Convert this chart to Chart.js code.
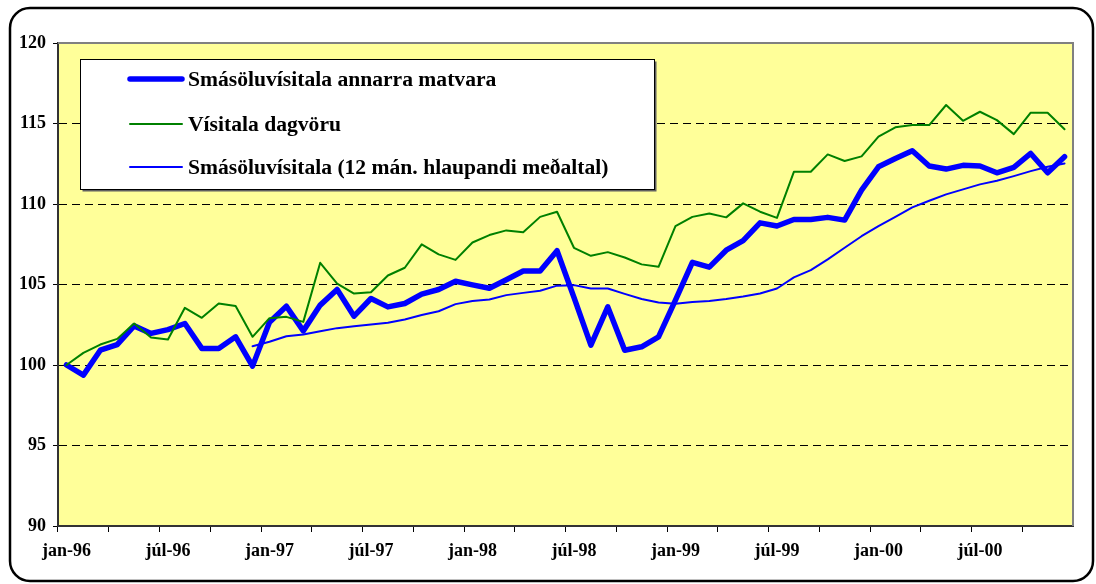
<!DOCTYPE html>
<html><head><meta charset="utf-8">
<script src="https://cdn.jsdelivr.net/npm/chart.js@4/dist/chart.umd.min.js"></script>
<style>html,body{margin:0;padding:0;background:#fff;}canvas{display:block;}</style>
</head><body>
<canvas id="c" width="1096" height="584"></canvas>
<script>
const categories = [
 'jan-96','feb-96','mar-96','apr-96','maí-96','jún-96','júl-96','ágú-96','sep-96','okt-96','nóv-96','des-96',
 'jan-97','feb-97','mar-97','apr-97','maí-97','jún-97','júl-97','ágú-97','sep-97','okt-97','nóv-97','des-97',
 'jan-98','feb-98','mar-98','apr-98','maí-98','jún-98','júl-98','ágú-98','sep-98','okt-98','nóv-98','des-98',
 'jan-99','feb-99','mar-99','apr-99','maí-99','jún-99','júl-99','ágú-99','sep-99','okt-99','nóv-99','des-99',
 'jan-00','feb-00','mar-00','apr-00','maí-00','jún-00','júl-00','ágú-00','sep-00','okt-00','nóv-00','des-00'
];
const seriesAnnarraMatvara = [
 100.0, 99.37, 100.92, 101.27, 102.43, 101.96, 102.2, 102.58, 101.03, 101.03, 101.75, 99.93,
 102.65, 103.65, 102.12, 103.72, 104.69, 103.03, 104.13, 103.61, 103.82, 104.4, 104.69, 105.2,
 104.98, 104.77, 105.3, 105.84, 105.84, 107.1, 104.2, 101.23, 103.61, 100.92, 101.13, 101.75,
 104.03, 106.38, 106.08, 107.13, 107.73, 108.83, 108.63, 109.04, 109.04, 109.17, 109.0, 110.86,
 112.31, 112.83, 113.31, 112.36, 112.17, 112.4, 112.36, 111.94, 112.27, 113.14, 111.94, 112.94
];
const seriesDagvoru = [
 100.0, 100.75, 101.27, 101.62, 102.58, 101.71, 101.58, 103.55, 102.93, 103.82, 103.67, 101.75,
 102.91, 102.99, 102.68, 106.35, 105.06, 104.44, 104.52, 105.56, 106.04, 107.49, 106.87, 106.53,
 107.61, 108.07, 108.36, 108.25, 109.2, 109.52, 107.28, 106.78, 107.01, 106.68, 106.25, 106.1,
 108.63, 109.2, 109.41, 109.17, 110.04, 109.52, 109.14, 112.0, 112.0, 113.08, 112.67, 112.96,
 114.18, 114.76, 114.9, 114.9, 116.15, 115.17, 115.73, 115.21, 114.34, 115.67, 115.67, 114.64
];
const seriesMedaltal = [
 null, null, null, null, null, null, null, null, null, null, null, 101.17,
 101.44, 101.79, 101.9, 102.1, 102.29, 102.4, 102.52, 102.62, 102.83, 103.1, 103.34, 103.78,
 103.98, 104.07, 104.34, 104.48, 104.61, 104.93, 104.96, 104.75, 104.75, 104.42, 104.1, 103.88,
 103.8, 103.92, 103.98, 104.1, 104.25, 104.44, 104.75, 105.44, 105.89, 106.56, 107.28, 108.0,
 108.63, 109.2, 109.79, 110.2, 110.6, 110.91, 111.22, 111.44, 111.73, 112.04, 112.31, 112.52
];
const seriesNames = [
 'Smásöluvísitala annarra matvara',
 'Vísitala dagvöru',
 'Smásöluvísitala (12 mán. hlaupandi meðaltal)'
];
const yTickValues = [90, 95, 100, 105, 110, 115, 120];

const FONT = "'Liberation Serif', 'Times New Roman', serif";

const decor = {
  id: 'decor',
  beforeDraw(chart) {
    const {ctx, chartArea: a} = chart;
    ctx.save();
    ctx.fillStyle = '#ffffff';
    ctx.fillRect(0, 0, chart.width, chart.height);
    ctx.fillStyle = '#FFFF99';
    ctx.fillRect(a.left, a.top, a.right - a.left, a.bottom - a.top);
    ctx.restore();
  },
  afterDatasetsDraw(chart) {
    const {ctx, chartArea: a} = chart;
    ctx.save();
    ctx.strokeStyle = '#808080';
    ctx.lineWidth = 2;
    ctx.beginPath();
    ctx.moveTo(a.left, a.top);
    ctx.lineTo(a.right, a.top);
    ctx.lineTo(a.right, a.bottom);
    ctx.stroke();
    ctx.restore();
  },
  afterDraw(chart) {
    const ctx = chart.ctx;
    ctx.save();
    // legend box
    const bx = 80.5, by = 59.5, bw = 574, bh = 130;
    ctx.fillStyle = '#606060';
    ctx.fillRect(bx + 2, by + 2, bw, bh);
    ctx.fillStyle = '#ffffff';
    ctx.fillRect(bx, by, bw, bh);
    ctx.strokeStyle = '#000';
    ctx.lineWidth = 1;
    ctx.strokeRect(bx, by, bw, bh);
    const rows = [79, 124, 167];
    chart.data.datasets.forEach((ds, i) => {
      const y = rows[i];
      ctx.strokeStyle = ds.borderColor;
      ctx.lineWidth = ds.borderWidth;
      ctx.lineCap = 'round';
      ctx.beginPath();
      ctx.moveTo(130, y);
      ctx.lineTo(182, y);
      ctx.stroke();
      ctx.fillStyle = '#000';
      ctx.font = 'bold 21.6px ' + FONT;
      ctx.textBaseline = 'middle';
      ctx.textAlign = 'left';
      ctx.fillText(ds.label, 188, y + 1);
    });
    // outer rounded border
    const x0 = 10, y0 = 8, x1 = 1093, y1 = 581, r = 20;
    ctx.strokeStyle = '#000';
    ctx.lineWidth = 2.5;
    ctx.beginPath();
    ctx.moveTo(x0 + r, y0);
    ctx.lineTo(x1 - r, y0);
    ctx.arcTo(x1, y0, x1, y0 + r, r);
    ctx.lineTo(x1, y1 - r);
    ctx.arcTo(x1, y1, x1 - r, y1, r);
    ctx.lineTo(x0 + r, y1);
    ctx.arcTo(x0, y1, x0, y1 - r, r);
    ctx.lineTo(x0, y0 + r);
    ctx.arcTo(x0, y0, x0 + r, y0, r);
    ctx.closePath();
    ctx.stroke();
    ctx.restore();
  }
};

new Chart(document.getElementById('c'), {
  type: 'line',
  data: {
    labels: categories,
    datasets: [
      { label: seriesNames[0], data: seriesAnnarraMatvara, borderColor: '#0000FF', borderWidth: 5.5, order: 3 },
      { label: seriesNames[1], data: seriesDagvoru, borderColor: '#008000', borderWidth: 2, order: 2 },
      { label: seriesNames[2], data: seriesMedaltal, borderColor: '#0000FF', borderWidth: 2, order: 1 }
    ].map(d => Object.assign(d, { pointRadius: 0, tension: 0, fill: false, borderJoinStyle: 'round', borderCapStyle: 'round', spanGaps: false }))
  },
  options: {
    responsive: false,
    animation: false,
    devicePixelRatio: 1,
    layout: { padding: { left: 0, right: 23, top: 43, bottom: 0 } },
    plugins: { legend: { display: false }, tooltip: { enabled: false } },
    scales: {
      x: {
        type: 'category',
        offset: true,
        afterFit(s) { s.height = 58; },
        ticks: {
          autoSkip: false, maxRotation: 0, minRotation: 0, padding: 9,
          color: '#000', font: { family: FONT, size: 18, weight: 'bold' },
          callback(v, i) { return i % 6 === 0 ? this.getLabelForValue(v) : ''; }
        },
        grid: {
          offset: true, drawOnChartArea: false, drawTicks: true, tickLength: 6,
          tickColor: c => (c.index % 3 === 0 ? '#000' : 'rgba(0,0,0,0)'), tickWidth: 1
        },
        border: { display: true, color: '#333', width: 2 }
      },
      y: {
        min: 90, max: 120,
        afterFit(s) { s.width = 58; },
        afterBuildTicks(s) { s.ticks = yTickValues.map(v => ({ value: v })); },
        ticks: { padding: 7, color: '#000', font: { family: FONT, size: 18, weight: 'bold' } },
        grid: {
          color: c => (c.tick && (c.tick.value === 90 || c.tick.value === 120) ? 'rgba(0,0,0,0)' : '#000'),
          lineWidth: 1, tickLength: 5, tickColor: '#000', tickWidth: 1
        },
        border: { display: true, color: '#333', width: 2, dash: [8, 5] }
      }
    }
  },
  plugins: [decor]
});
</script>
</body></html>
